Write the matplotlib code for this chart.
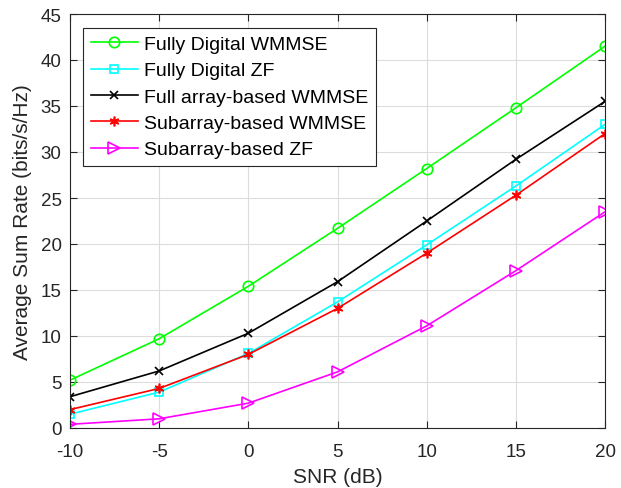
import matplotlib
matplotlib.use("Agg")
import matplotlib.pyplot as plt

plt.rcParams['font.family'] = ['Liberation Sans', 'DejaVu Sans']
plt.rcParams['axes.unicode_minus'] = False

snr = [-10, -5, 0, 5, 10, 15, 20]
fd_wmmse = [5.2, 9.7, 15.4, 21.7, 28.2, 34.8, 41.5]
fd_zf = [1.5, 3.9, 8.1, 13.7, 19.9, 26.3, 33.0]
fa_wmmse = [3.4, 6.2, 10.3, 15.9, 22.5, 29.2, 35.5]
sa_wmmse = [2.0, 4.3, 8.0, 13.0, 19.0, 25.3, 32.0]
sa_zf = [0.4, 1.0, 2.7, 6.1, 11.1, 17.1, 23.5]

fig = plt.figure(figsize=(6.21, 4.89), dpi=100)
ax = fig.add_axes([70 / 621, 60 / 489, 535 / 621, 414 / 489])

ax.plot(snr, fd_wmmse, '-o', color='#00ff00', mfc='none', ms=7.5, mew=1.2, lw=1.2,
        label='Fully Digital WMMSE')
ax.plot(snr, fd_zf, '-s', color='#00ffff', mfc='none', ms=5.5, mew=1.2, lw=1.2,
        label='Fully Digital ZF')
ax.plot(snr, fa_wmmse, '-x', color='black', ms=5.5, mew=1.2, lw=1.2,
        label='Full array-based WMMSE')
ax.plot(snr, sa_wmmse, '-', marker=(6, 2, 0), color='red', ms=7, mew=1.2, lw=1.2,
        label='Subarray-based WMMSE')
ax.plot(snr, sa_zf, '->', color='#ff00ff', mfc='none', ms=8, mew=1.2, lw=1.2,
        label='Subarray-based ZF')

ax.set_xlim(-10, 20)
ax.set_ylim(0, 45)
ax.set_xticks(snr)
ax.set_yticks(range(0, 46, 5))
ax.grid(True, color='#dcdcdc', lw=0.8)
ax.tick_params(direction='in', top=True, right=True, labelsize=13.5, length=5,
               pad=6, color='#262626', labelcolor='#262626')
ax.tick_params(axis='x', pad=10.5)
for s in ax.spines.values():
    s.set_color('#262626')
    s.set_linewidth(0.8)

ax.set_xlabel('SNR (dB)', fontsize=15, color='#262626', labelpad=5)
ax.set_ylabel('Average Sum Rate (bits/s/Hz)', fontsize=15, color='#262626', labelpad=6)

leg = ax.legend(loc='upper left', bbox_to_anchor=(0.024, 0.967), fontsize=14,
                fancybox=False, edgecolor='#262626', framealpha=1,
                handlelength=2.45, labelspacing=0.45, borderpad=0.4,
                handletextpad=0.3, borderaxespad=0)
leg.get_frame().set_linewidth(0.8)

fig.savefig('out.png', dpi=100)
